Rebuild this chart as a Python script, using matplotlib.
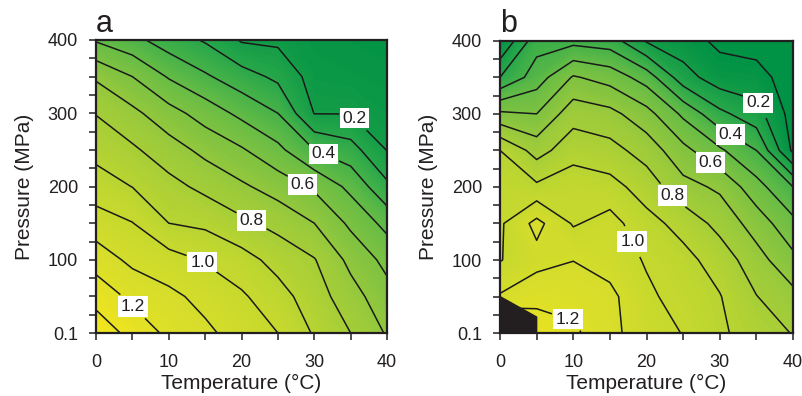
import numpy as np
import matplotlib
matplotlib.use("Agg")
import matplotlib.pyplot as plt
from matplotlib.colors import LinearSegmentedColormap

# measurement grid
temperature = [0, 5, 10, 15, 20, 25, 30, 35, 40]          # degC
pressure = [0.1, 50, 100, 150, 200, 250, 300, 350, 400]   # MPa

# panel a values, one row per pressure (bottom -> top)
values_a = [
    [1.36, 1.27, 1.177, 1.12, 1.06, 1.00, 0.89, 0.80, 0.69],
    [1.265, 1.176, 1.123, 1.071, 1.014, 0.939, 0.848, 0.741, 0.636],
    [1.156, 1.076, 1.041, 0.991, 0.939, 0.865, 0.806, 0.673, 0.571],
    [1.046, 1.003, 0.90, 0.880, 0.822, 0.769, 0.70, 0.58, 0.469],
    [0.948, 0.898, 0.832, 0.774, 0.716, 0.657, 0.583, 0.474, 0.322],
    [0.868, 0.816, 0.745, 0.673, 0.611, 0.525, 0.40, 0.341, 0.196],
    [0.796, 0.725, 0.638, 0.557, 0.475, 0.40, 0.197, 0.197, 0.16],
    [0.686, 0.600, 0.491, 0.414, 0.343, 0.278, 0.16, 0.15, 0.14],
    [0.49, 0.43, 0.35, 0.29, 0.19, 0.18, 0.14, 0.13, 0.12],
]

# panel b values
values_b = [
    [1.40, 1.26, 1.22, 1.13, 1.04, 0.997, 0.916, 0.855, 0.795],
    [1.11, 1.17, 1.16, 1.125, 1.02, 0.96, 0.905, 0.803, 0.729],
    [0.995, 1.065, 1.098, 1.06, 0.99, 0.93, 0.858, 0.739, 0.626],
    [0.985, 1.13, 0.99, 1.04, 0.933, 0.867, 0.767, 0.656, 0.527],
    [0.96, 0.92, 0.96, 0.935, 0.856, 0.733, 0.683, 0.538, 0.40],
    [0.90, 0.76, 0.86, 0.835, 0.758, 0.63, 0.517, 0.40, 0.08],
    [0.62, 0.60, 0.76, 0.73, 0.637, 0.48, 0.325, 0.239, 0.06],
    [0.30, 0.45, 0.61, 0.56, 0.455, 0.244, 0.143, 0.136, 0.05],
    [0.10, 0.36, 0.37, 0.35, 0.19, 0.14, 0.08, 0.06, 0.04],
]

# black (no data) corner in panel b
ice_T = [0, 5, 5, 0]
ice_P = [50, 22, 0.1, 0.1]

plain_levels = [0.1, 0.3, 0.5, 0.7, 0.9, 1.1, 1.3]
label_levels = [0.2, 0.4, 0.6, 0.8, 1.0, 1.2]

# where the inline labels sit (T, P)
labels_a = [(36, 298), (31.5, 250), (28.5, 205), (21.2, 150), (14.8, 100), (5, 36)]
labels_b = [(34.9, 313), (31.4, 271), (28.5, 230), (23, 182), (18, 125), (9.5, 25)]

cmap = LinearSegmentedColormap.from_list(
    "yg",
    ["#009245", "#2ba84a", "#6abd45", "#98c93c", "#bed630", "#d9de2a", "#f2e61d"],
)

plt.rcParams["font.family"] = ["Liberation Sans", "DejaVu Sans"]

fig = plt.figure(figsize=(8.03, 3.96), dpi=100)
ax_a = fig.add_axes([0.1196, 0.159, 0.3624, 0.740])
ax_b = fig.add_axes([0.6227, 0.159, 0.3649, 0.738])


def draw_panel(ax, values, label_pos, letter):
    T, P = np.meshgrid(temperature, pressure)
    Z = np.array(values)
    ax.contourf(T, P, Z, levels=np.linspace(0.1, 1.35, 80), cmap=cmap, extend="both")
    ax.contour(T, P, Z, levels=plain_levels, colors="#1a1a1a", linewidths=1.1)
    cs = ax.contour(T, P, Z, levels=label_levels, colors="#1a1a1a", linewidths=1.1)
    texts = cs.clabel(fmt="%.1f", inline=True, fontsize=12.5, manual=label_pos)
    for t in texts:
        t.set_bbox(dict(facecolor="white", edgecolor="none", pad=2.0))
        t.set_rotation(0)
        t.set_color("#231f20")

    ax.set_xlim(0, 40)
    ax.set_ylim(0.1, 400)
    ax.set_xticks([0, 10, 20, 30, 40])
    ax.set_xticks([5, 15, 25, 35], minor=True)
    ax.set_yticks([0.1, 100, 200, 300, 400])
    ax.set_yticklabels(["0.1", "100", "200", "300", "400"])
    ax.set_yticks([25, 50, 75, 125, 150, 175, 225, 250, 275, 325, 350, 375], minor=True)
    ax.tick_params(which="both", direction="out", length=5, width=1.1,
                   labelsize=13, colors="#231f20")
    ax.tick_params(axis="x", pad=10)
    ax.tick_params(axis="y", pad=8)
    for s in ax.spines.values():
        s.set_linewidth(1.6)
        s.set_color("#231f20")
    ax.set_xlabel("Temperature (\u00b0C)", fontsize=15, color="#231f20", labelpad=2)
    ax.set_ylabel("Pressure (MPa)", fontsize=15, color="#231f20", labelpad=10)
    ax.text(0.0, 1.005, letter, transform=ax.transAxes, fontsize=22,
            color="#231f20", ha="left", va="bottom")


draw_panel(ax_a, values_a, labels_a, "a")
draw_panel(ax_b, values_b, labels_b, "b")
ax_b.fill(ice_T, ice_P, color="#231f20", zorder=5)

fig.savefig("out.png", dpi=100)
